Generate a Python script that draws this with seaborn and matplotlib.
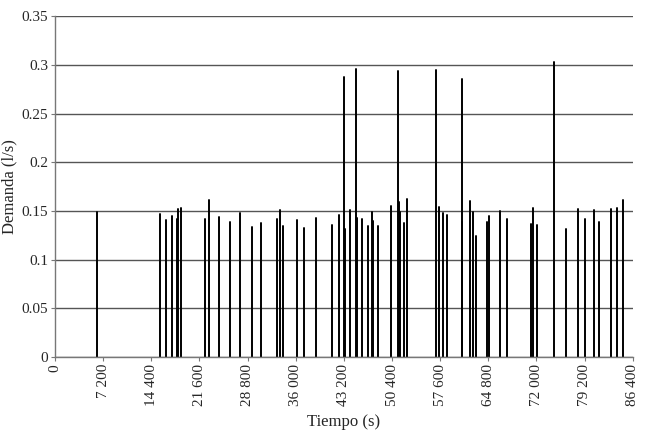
import matplotlib
matplotlib.use('Agg')
import matplotlib.pyplot as plt
import pandas as pd
import seaborn as sns

# instantes de demanda (s) y caudal (l/s)
tiempos = [6323, 15696, 16548, 17490, 18192, 18342, 18835, 22422, 23020, 24560,
           26204, 27699, 29403, 30749, 33185, 33634, 34082, 36175, 37176, 39060,
           41362, 42453, 43245, 43350, 44142, 44994, 45188, 45846, 46833, 47341,
           47491, 48238, 50226, 51228, 51422, 51617, 52125, 52618, 56953, 57401,
           57954, 58642, 60794, 60884, 62080, 62483, 62887, 64621, 64875, 66564,
           67610, 71107, 71406, 72004, 74695, 76429, 78177, 79328, 80569, 81361,
           83215, 84052, 84949]
demanda = [0.149, 0.147, 0.141, 0.1445, 0.142, 0.152, 0.153, 0.142, 0.161, 0.1437,
           0.139, 0.148, 0.134, 0.138, 0.1414, 0.1506, 0.135, 0.1407, 0.132, 0.1424,
           0.136, 0.1455, 0.288, 0.131, 0.1506, 0.296, 0.1428, 0.142, 0.1345, 0.149,
           0.14, 0.1345, 0.1554, 0.294, 0.1595, 0.149, 0.1376, 0.1626, 0.295, 0.154,
           0.148, 0.146, 0.285, 0.1386, 0.160, 0.149, 0.124, 0.1386, 0.1445, 0.1497,
           0.1414, 0.137, 0.1534, 0.136, 0.303, 0.1314, 0.152, 0.142, 0.1506, 0.1386,
           0.152, 0.153, 0.161]

x_ticks = list(range(0, 86401, 7200))
y_ticks = [0, 0.05, 0.1, 0.15, 0.2, 0.25, 0.3, 0.35]

rows = []
for i, (t, d) in enumerate(zip(tiempos, demanda)):
    rows.append({'id': i, 't': t, 'q': 0.0})
    rows.append({'id': i, 't': t, 'q': d})
df = pd.DataFrame(rows)

sns.set_style('white')
plt.rcParams['font.family'] = ['Liberation Serif', 'DejaVu Serif']

fig = plt.figure(figsize=(6.51, 4.36), dpi=100)
ax = fig.add_axes([0.0845, 0.181, 0.8875, 0.782])

sns.lineplot(data=df, x='t', y='q', units='id', estimator=None,
             color='black', linewidth=1.4, ax=ax)

ax.set_xlim(0, 86400)
ax.set_ylim(0, 0.35)
ax.set_yticks(y_ticks)
ax.set_yticklabels(['%g' % v for v in y_ticks], fontsize=11)
ax.set_xticks(x_ticks)
ax.set_xticklabels([f'{v:,}'.replace(',', ' ') for v in x_ticks],
                   rotation=90, fontsize=11)
ax.yaxis.grid(True, color='#555555', linewidth=1)
ax.set_axisbelow(True)
for s in ['top', 'right']:
    ax.spines[s].set_visible(False)
for s in ['left', 'bottom']:
    ax.spines[s].set_color('#777777')
    ax.spines[s].set_linewidth(1)
ax.tick_params(axis='both', direction='out', length=3, color='#777777',
               left=True, bottom=True, pad=2)
ax.set_xlabel('Tiempo (s)', fontsize=12, labelpad=6)
ax.set_ylabel('Demanda (l/s)', fontsize=12, labelpad=3)

fig.savefig('out.png', dpi=100)
